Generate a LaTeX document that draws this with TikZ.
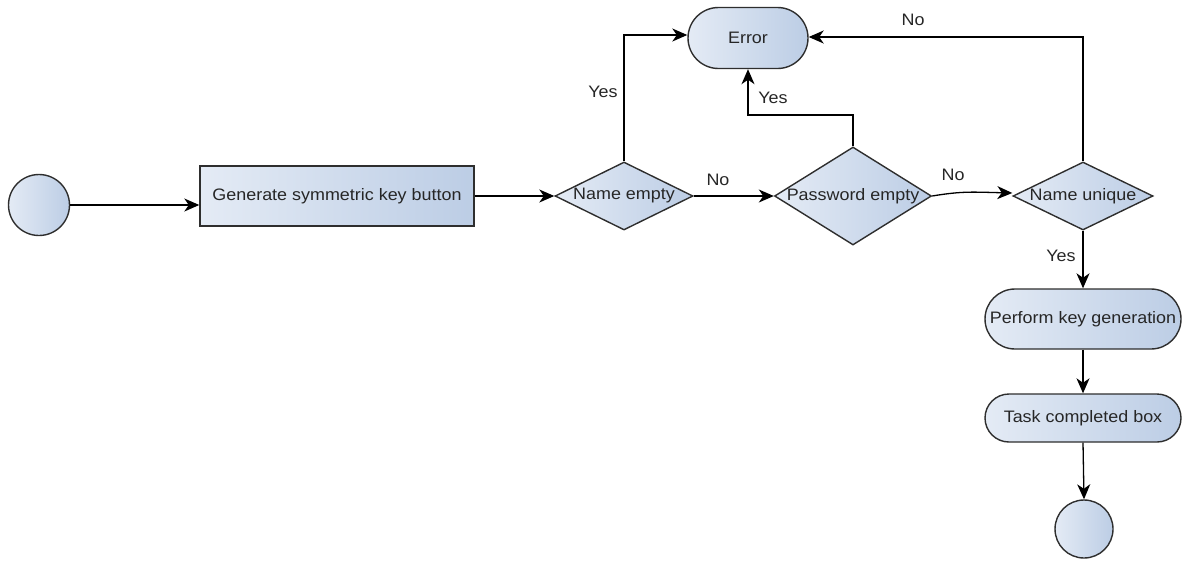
\documentclass[tikz,border=0pt]{standalone}
\usepackage{fontspec}
\setmainfont{Liberation Sans}[FakeStretch=1.08]
\usetikzlibrary{shapes.geometric,shapes.misc,arrows.meta,calc}
\definecolor{fillL}{HTML}{E4EBF5}
\definecolor{fillR}{HTML}{BCCDE5}
\definecolor{edge}{HTML}{2E2E2E}
\definecolor{txt}{HTML}{262626}
\begin{document}
\begin{tikzpicture}[x=1pt,y=-1pt,
  font=\fontsize{16.6pt}{19pt}\selectfont, text=txt,
  shp/.style={draw=edge, line width=1.4pt, left color=fillL, right color=fillR, inner sep=0pt},
  rectbox/.style={shp, rectangle, minimum width=274pt, minimum height=60pt},
  circ/.style={shp, circle, minimum size=#1},
  conn/.style={draw=black, line width=1.3pt, -{Stealth[length=15pt,width=13pt,inset=4.5pt]}},
  lbl/.style={inner sep=0pt}
]
\useasboundingbox (0,0) rectangle (1182,560);
\node[circ=61pt] (start) at (39,205) {};
\node[rectbox] (gen) at (337,196) {Generate symmetric key button};
\node[shp, diamond, minimum width=138pt, minimum height=68pt, aspect=2.03] (ne) at (624,196) {};
\node at (ne.center) {Name empty};
\node[shp, rounded rectangle, minimum width=120pt, minimum height=61pt] (err) at (748,38) {Error};
\node[shp, diamond, minimum width=157pt, minimum height=98pt, aspect=1.6] (pe) at (853,196) {};
\node at (pe.center) {Password empty};
\node[shp, diamond, minimum width=140pt, minimum height=68pt, aspect=2.06] (nu) at (1083,196) {};
\node at (nu.center) {Name unique};
\node[shp, rounded rectangle, minimum width=196pt, minimum height=60pt] (perf) at (1083,319) {};
\node at (perf.center) {Perform key generation};
\node[shp, rounded rectangle, minimum width=196pt, minimum height=48pt] (task) at (1083,418) {};
\node at (task.center) {Task completed box};
\node[circ=58pt] (end) at (1084,529) {};

\coordinate (c1) at (624,35);
\coordinate (c2) at (853,115);
\coordinate (c3) at (748,115);
\coordinate (c4) at (1083,37);

\draw[conn] (start.east) -- (start.east -| gen.west);
\draw[conn] (gen.east) -- (ne.west);
\draw[conn] (ne.east) -- (pe.west);
\draw[conn] (pe.east) .. controls ($(pe.east)+(30,-5)$) and ($(nu.west)+(-40,-4)$) .. ($(nu.west)+(0,-3)$);
\draw[conn] (ne.north) -- (c1) -- (c1 -| err.west);
\draw[conn] (pe.north) -- (c2) -- (c3) -- (err.south);
\draw[conn] (nu.north) -- (c4) -- (c4 -| err.east);
\draw[conn] (nu.south) -- (perf.north);
\draw[conn] (perf.south) -- (task.north);
\draw[conn] (task.south) -- (end.north);

\node[lbl] (l1) at (603,92) {Yes};
\node[lbl] (l2) at (773,98) {Yes};
\node[lbl] (l3) at (718,180) {No};
\node[lbl] (l4) at (953,175) {No};
\node[lbl] (l5) at (913,20) {No};
\node[lbl] (l6) at (1061,256) {Yes};
\end{tikzpicture}
\end{document}
